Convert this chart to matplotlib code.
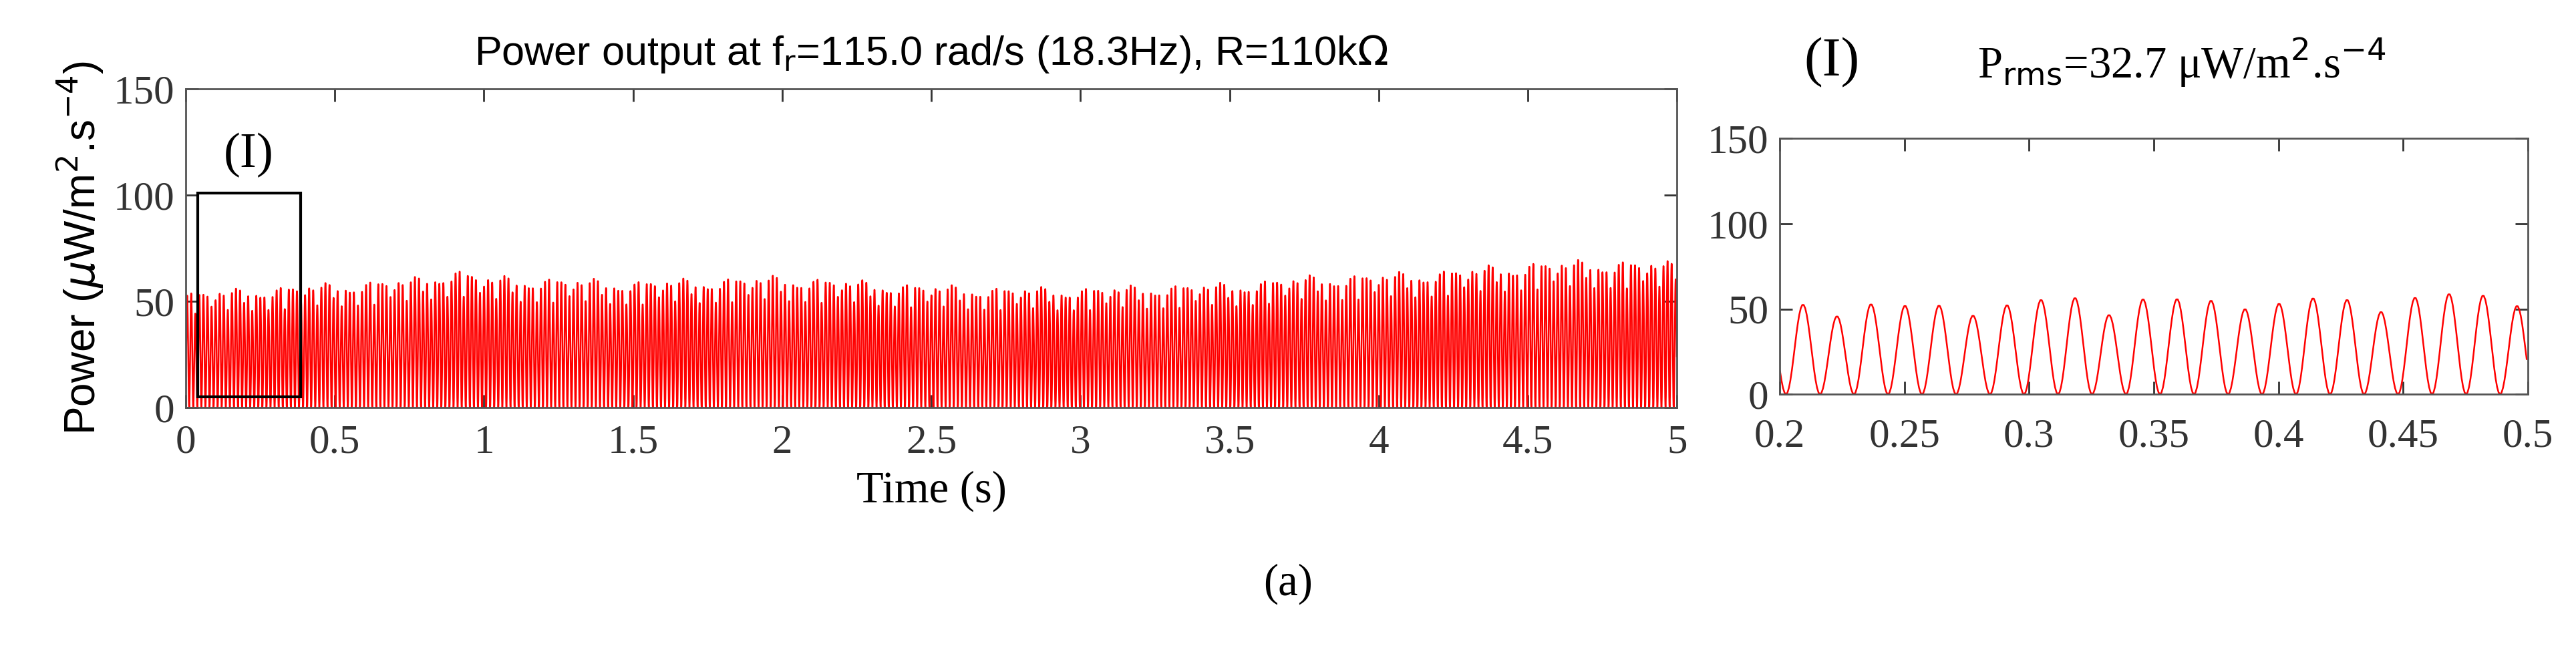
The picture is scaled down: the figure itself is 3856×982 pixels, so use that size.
import numpy as np
import matplotlib.pyplot as plt
from matplotlib.patches import Rectangle

# envelope of peak power in full record (every 0.25 s), uW/m^2.s^-4
env_t = [0, 0.25, 0.5, 0.75, 0.9, 1.0, 1.25, 1.5, 1.75, 2.0, 2.25, 2.5, 2.75,
         3.0, 3.25, 3.5, 3.75, 4.0, 4.25, 4.5, 4.75, 5.0]
env_p = [50, 52, 54, 56, 60, 57, 56, 55, 56, 57, 55, 53, 52,
         52, 53, 54, 57, 58, 60, 63, 64, 63]

# peaks read from zoom window (I), 0.2 - 0.5 s
zoom_peaks = [53, 46, 53, 52, 52, 46, 52, 55, 56, 46, 55,
              55, 54, 49, 52, 55, 54, 47, 55, 57, 56, 50]
period = 0.3 / 22
t0 = 0.2025  # first trough in window

# build waveform: one pulse per cycle
k0 = int(np.floor(t0 / period)) + 1
starts = t0 - k0 * period + period * np.arange(int(5 / period) + 3)
starts = starts[starts < 5]
ratio = np.array(zoom_peaks) / 52.0
t_all, p_all = [], []
for i, s in enumerate(starts):
    tt = np.linspace(s, s + period, 24)
    amp = np.interp(s, env_t, env_p) * ratio[(i - k0) % len(ratio)]
    t_all.append(tt)
    p_all.append(amp * np.sin(np.pi * (tt - s) / period) ** 2)
t = np.concatenate(t_all)
p = np.concatenate(p_all)

plt.rcParams['font.family'] = ['Liberation Serif']
fig = plt.figure(figsize=(38.56, 9.82), dpi=100)

def style(ax, xpad=18):
    for s in ax.spines.values():
        s.set_color('#555555')
        s.set_linewidth(2)
    ax.tick_params(direction='in', top=True, right=True, length=14, width=2,
                   labelsize=44, colors='#333333')
    ax.tick_params(axis='x', pad=xpad)
    ax.tick_params(axis='y', pad=12)

ax1 = fig.add_axes([0.0721, 0.3788, 0.5789, 0.4858])
m = t <= 5
ax1.plot(t[m], p[m], color='red', lw=1.8)
ax1.set_xlim(0, 5)
ax1.set_ylim(0, 150)
ax1.set_xticks([0, 0.5, 1, 1.5, 2, 2.5, 3, 3.5, 4, 4.5, 5])
ax1.set_xticklabels(['0', '0.5', '1', '1.5', '2', '2.5', '3', '3.5', '4', '4.5', '5'])
ax1.set_yticks([0, 50, 100, 150])
style(ax1)
ax1.set_xlabel('Time (s)', fontsize=48, labelpad=10)
ax1.set_ylabel(r'Power ($\mu$W/m$^2$.s$^{-4}$)', fontsize=46, family='Liberation Sans', labelpad=8)
ax1.set_title(r'Power output at f$_\mathrm{r}$=115.0 rad/s (18.3Hz), R=110k$\Omega$',
              fontsize=44, family='Liberation Sans', pad=26)
ax1.add_patch(Rectangle((0.04, 5), 0.345, 96, fill=False, ec='black', lw=3, zorder=5))
ax1.text(0.21, 108, '(I)', fontsize=54, ha='center', va='bottom')

ax2 = fig.add_axes([0.6909, 0.399, 0.2904, 0.390])
m2 = (t >= 0.2) & (t <= 0.5)
ax2.plot(t[m2], p[m2], color='red', lw=1.8)
ax2.set_xlim(0.2, 0.5)
ax2.set_ylim(0, 150)
ax2.set_xticks([0.2, 0.25, 0.3, 0.35, 0.4, 0.45, 0.5])
ax2.set_xticklabels(['0.2', '0.25', '0.3', '0.35', '0.4', '0.45', '0.5'])
ax2.set_yticks([0, 50, 100, 150])
style(ax2, xpad=26)

fig.text(0.711, 0.905, '(I)', fontsize=60, ha='center', va='center')
fig.text(0.847, 0.905, r'P$_\mathrm{rms}$=32.7 μW/m$^2$.s$^{-4}$', fontsize=48,
         ha='center', va='center')
fig.text(0.5, 0.11, '(a)', fontsize=48, ha='center', va='center')

fig.savefig('out.png', dpi=100)
